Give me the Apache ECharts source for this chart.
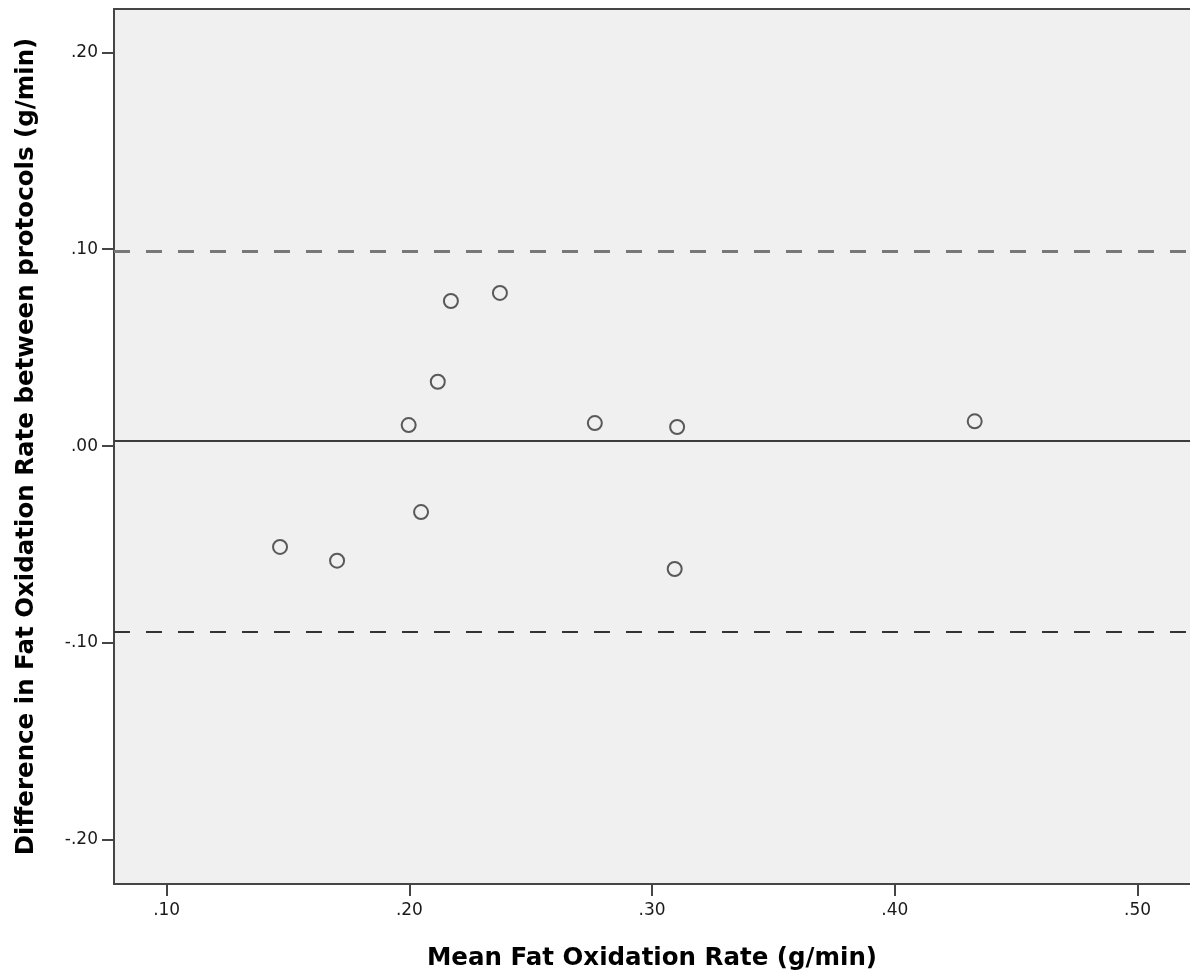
<!DOCTYPE html>
<html>
<head>
<meta charset="utf-8">
<script src="https://cdn.jsdelivr.net/npm/echarts@6/dist/echarts.min.js"></script>
<style>
html,body{margin:0;padding:0;background:#ffffff;}
#chart{width:1190px;height:980px;}
</style>
</head>
<body>
<div id="chart"></div>
<script>
// Data
const meanRate = [0.1467, 0.1702, 0.1997, 0.2048, 0.2117, 0.2171, 0.2373, 0.2764, 0.3103, 0.3093, 0.4329];
const diffRate = [-0.0512, -0.0582, 0.0107, -0.0335, 0.0327, 0.0737, 0.0778, 0.0117, 0.0097, -0.0624, 0.0126];
const meanDiff = 0.0026;
const upperLoA = 0.0992;
const lowerLoA = -0.0943;
const xTicks = [0.1, 0.2, 0.3, 0.4, 0.5];
const yTicks = [-0.2, -0.1, 0, 0.1, 0.2];
const xTitle = 'Mean Fat Oxidation Rate (g/min)';
const yTitle = 'Difference in Fat Oxidation Rate between protocols (g/min)';

function fmt(v) {
  let s = Math.abs(v) < 1e-9 ? '0.00' : v.toFixed(2);
  return s.replace(/^(-?)0\./, '$1.');
}

const points = meanRate.map((x, i) => [x, diffRate[i]]);
const FONT = 'DejaVu Sans';
const AXC = '#454545';
const XMIN = 0.0783, XMAX = 0.5216;

const chart = echarts.init(document.getElementById('chart'), null, {renderer: 'canvas'});
chart.setOption({
  animation: false,
  backgroundColor: '#ffffff',
  grid: {
    left: 114, top: 9, right: 0, bottom: 96,
    show: true, backgroundColor: '#f0f0f0',
    borderWidth: 0,
    containLabel: false
  },
  xAxis: [{
    type: 'value',
    position: 'bottom',
    min: XMIN, max: XMAX,
    splitLine: {show: false},
    axisLine: {show: true, onZero: false, lineStyle: {color: AXC, width: 2}},
    axisTick: {show: true, inside: false, length: 12, customValues: xTicks,
      lineStyle: {color: AXC, width: 2}},
    axisLabel: {show: true, customValues: xTicks, formatter: fmt, margin: 18,
      color: '#1a1a1a', fontFamily: FONT, fontSize: 17},
    name: xTitle, nameLocation: 'middle', nameGap: 62,
    nameTextStyle: {color: '#000', fontFamily: FONT, fontSize: 24.5, fontWeight: 'bold'}
  }, {
    type: 'value',
    position: 'top',
    min: XMIN, max: XMAX,
    splitLine: {show: false},
    axisLine: {show: true, onZero: false, lineStyle: {color: AXC, width: 2}},
    axisTick: {show: false},
    axisLabel: {show: false}
  }],
  yAxis: {
    type: 'value',
    min: -0.2224, max: 0.2220,
    splitLine: {show: false},
    axisLine: {show: true, onZero: false, lineStyle: {color: AXC, width: 2}},
    axisTick: {show: true, inside: false, length: 12, customValues: yTicks,
      lineStyle: {color: AXC, width: 2}},
    axisLabel: {show: true, customValues: yTicks, formatter: fmt, margin: 16,
      color: '#1a1a1a', fontFamily: FONT, fontSize: 17},
    name: yTitle, nameLocation: 'middle', nameGap: 75,
    nameTextStyle: {color: '#000', fontFamily: FONT, fontSize: 24.5, fontWeight: 'bold'}
  },
  series: [
    {
      type: 'scatter',
      xAxisIndex: 0,
      data: points,
      symbol: 'circle',
      symbolSize: 14,
      itemStyle: {color: 'rgba(0,0,0,0)', borderColor: '#333333', borderWidth: 2},
      emphasis: {disabled: true},
      markLine: {
        silent: true,
        precision: 6,
        symbol: ['none', 'none'],
        label: {show: false},
        data: [
          {yAxis: meanDiff, lineStyle: {color: '#3c3c3c', width: 2, type: 'solid'}},
          {yAxis: upperLoA, lineStyle: {color: '#787878', width: 3, type: [16, 16]}},
          {yAxis: lowerLoA, lineStyle: {color: '#333333', width: 2, type: [16, 16]}}
        ]
      },
      z: 3
    }
  ]
});
</script>
</body>
</html>
